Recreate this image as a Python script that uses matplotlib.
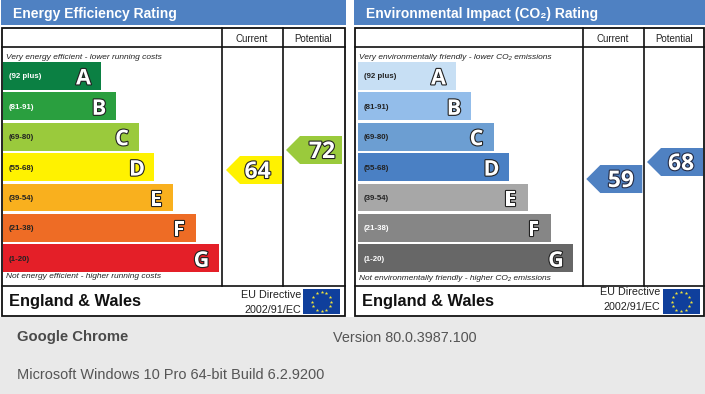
import numpy as np
import matplotlib
matplotlib.use("Agg")
import matplotlib.pyplot as plt
import matplotlib.patheffects as pe
from matplotlib.patches import Rectangle, Polygon

plt.rcParams['font.family'] = ['Liberation Sans', 'DejaVu Sans']

bands = ['A', 'B', 'C', 'D', 'E', 'F', 'G']
ranges = ['(92 plus)', '(81-91)', '(69-80)', '(55-68)', '(39-54)', '(21-38)', '(1-20)']
energy_lengths = [97.5, 113, 136, 151, 170, 193, 215.5]
env_lengths = [98, 113.5, 136, 151, 170, 193, 215.5]
energy_colors = ['#0b8043', '#2a9f3f', '#9aca3c', '#fff200', '#f9b01e', '#ee6c25', '#e41f28']
env_colors = ['#c7dff4', '#93bdea', '#6c9ed2', '#4a80c4', '#a7a7a7', '#868686', '#676767']
energy_range_colors = ['#ffffff', '#ffffff', '#222222', '#222222', '#222222', '#222222', '#222222']
env_range_colors = ['#222222', '#222222', '#222222', '#222222', '#222222', '#ffffff', '#ffffff']
energy_current, energy_potential = 64, 72
env_current, env_potential = 59, 68

W, H = 705, 394
fig = plt.figure(figsize=(W / 100, H / 100), dpi=100, facecolor='white')
ax = fig.add_axes([0, 0, 1, 1])
ax.set_xlim(0, W)
ax.set_ylim(H, 0)
ax.axis('off')

BLUE = '#4f81c2'
INK = '#111111'
row_tops = np.array([62, 92.4, 122.8, 153.2, 183.6, 214, 244.4])
row_h = 27.8


def outlined(x, y, s, size, stroke=1.6, fill='white', edge='#222222', ha='center'):
    ax.text(x, y, s, fontsize=size, fontweight='bold', family=['Open Sans', 'DejaVu Sans'],
            ha=ha, va='center_baseline', color=fill, zorder=6,
            path_effects=[pe.withStroke(linewidth=stroke, foreground=edge)])


def arrow(right, cy, value, color, fill='white', edge='#222222', text_off=22):
    tip = 56
    hh = 14
    ax.add_patch(Polygon([(right, cy - hh), (right, cy + hh), (right - tip + 14, cy + hh),
                          (right - tip, cy), (right - tip + 14, cy - hh)],
                         closed=True, fc=color, ec='none', zorder=4))
    outlined(right - text_off, cy - 1, str(value), 16.5, fill=fill, edge=edge)


def panel(x0, x1, xc, xp, bar_left, title, title_x, lengths, colors, range_colors,
          top_note, bottom_note, note_x, bottom_y, euro_y, note_size):
    ax.add_patch(Rectangle((x0 - 0.5, 0), x1 - x0 + 1.5, 25, fc=BLUE, ec='none', zorder=1))
    ax.text(title_x, 13.5, title, fontsize=10.0, fontweight='bold',
            color='white', ha='left', va='center', zorder=5)
    ax.add_patch(Rectangle((x0, 28), x1 - x0, 288, fc='white', ec=INK, lw=1.3, zorder=2))
    for y in (47, 285.5):
        ax.plot([x0, x1], [y, y], color=INK, lw=1.2, zorder=3)
    for x in (xc, xp):
        ax.plot([x, x], [28, 285.5], color=INK, lw=1.2, zorder=3)
    ax.text((xc + xp) / 2, 38.5, 'Current', fontsize=7.0, ha='center', va='center', color='#222222', zorder=5)
    ax.text((xp + x1) / 2, 38.5, 'Potential', fontsize=7.0, ha='center', va='center', color='#222222', zorder=5)
    ax.text(note_x, 57, top_note, fontsize=note_size, style='italic', va='center', color='#222222', zorder=5)
    ax.text(note_x, bottom_y, bottom_note, fontsize=note_size, style='italic', va='center', color='#222222', zorder=5)
    ax.barh(row_tops + row_h / 2, lengths, height=row_h, left=bar_left, color=colors, zorder=3)
    for t, L, b, r, rc in zip(row_tops, lengths, bands, ranges, range_colors):
        ax.text(bar_left + 6, t + row_h / 2 + 1, r, fontsize=5.7, fontweight='bold', color=rc,
                va='center', zorder=5)
        outlined(bar_left + L - 17, t + row_h / 2 + 0.5, b, 15.5)
    # footer
    ax.text(x0 + 7.5, 301.5, 'England & Wales', fontsize=11.8, fontweight='bold', color='#111111',
            va='center', zorder=5)
    ax.text(x1 - 43.5, euro_y, 'EU Directive', fontsize=7.75, ha='right', va='center', color='#222222', zorder=5)
    ax.text(x1 - 43.5, euro_y + 15, '2002/91/EC', fontsize=7.75, ha='right', va='center', color='#222222', zorder=5)
    # flag
    fx0, fx1, fy0, fy1 = x1 - 41.5, x1 - 4.5, 289, 314
    ax.add_patch(Rectangle((fx0, fy0), fx1 - fx0, fy1 - fy0, fc='#0f3f9c', ec='none', zorder=4))
    ang = np.deg2rad(np.arange(0, 360, 30))
    ax.scatter((fx0 + fx1) / 2 + 9.5 * np.cos(ang), (fy0 + fy1) / 2 + 9.5 * np.sin(ang),
               marker='*', s=7, color='#f2e53a', linewidths=0, zorder=5)


panel(1.5, 344.5, 221.5, 282.5, 3, 'Energy Efficiency Rating', 13,
      energy_lengths, energy_colors, energy_range_colors,
      'Very energy efficient - lower running costs', 'Not energy efficient - higher running costs',
      5.5, 277, 295, 6.07)
panel(354.5, 704, 582.5, 643.5, 357.5, 'Environmental Impact (CO\u2082) Rating', 366,
      env_lengths, env_colors, env_range_colors,
      'Very environmentally friendly - lower CO\u2082 emissions',
      'Not environmentally friendly - higher CO\u2082 emissions',
      359, 278, 292, 6.0)

arrow(282, 150 + (72 - energy_current) * 2.5, energy_current, energy_colors[3], text_off=24.5)
arrow(342, 150 + (72 - energy_potential) * 2.5, energy_potential, energy_colors[2], text_off=20)
arrow(642.3, 162 + (68 - env_current) * 1.89, env_current, BLUE, edge='#222a44', text_off=21.5)
arrow(703, 162 + (68 - env_potential) * 1.89, env_potential, BLUE, edge='#222a44', text_off=22)

# bottom information strip
ax.add_patch(Rectangle((0, 317), W, H - 317, fc='#e9e9e9', ec='none', zorder=1))
ax.text(17, 337.5, 'Google Chrome', fontsize=10.7, fontweight='bold', color='#4a4a4a', va='center', zorder=5)
ax.text(333, 337.5, 'Version 80.0.3987.100', fontsize=10.35, color='#555555', va='center', zorder=5)
ax.text(17, 375, 'Microsoft Windows 10 Pro 64-bit Build 6.2.9200', fontsize=10.45, color='#555555', va='center', zorder=5)

fig.savefig('out.png', dpi=100, facecolor='white')
